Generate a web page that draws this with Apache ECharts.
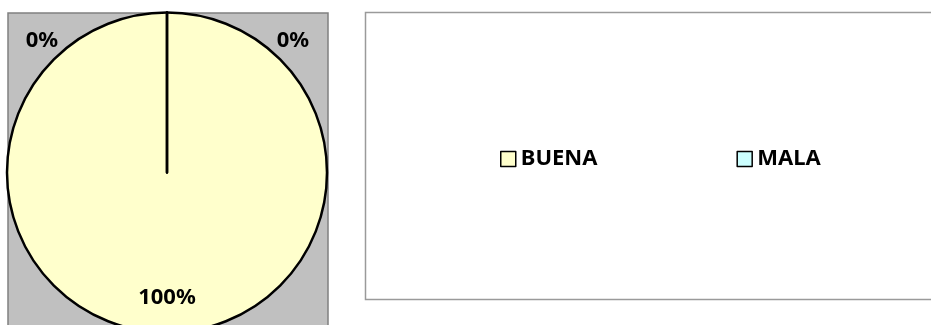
<!DOCTYPE html>
<html>
<head>
<meta charset="utf-8">
<script src="https://cdn.jsdelivr.net/npm/echarts@6/dist/echarts.min.js"></script>
<style>
  html, body { margin: 0; padding: 0; background: #fff; }
  #chart { width: 931px; height: 325px; }
</style>
</head>
<body>
<div id="chart"></div>
<script>
// datos del grafico
var categorias = ['BUENA', 'MALA', ''];
var valores = [100, 0, 0];
var colores = ['#FFFFCC', '#CCFFFF', '#FFFFFF'];
var leyenda = ['BUENA', 'MALA'];

// desplazamiento de las etiquetas (como en la hoja original)
var desplazamientos = [[0, 42], [-125, -49], [126, -49]];

var chart = echarts.init(document.getElementById('chart'));

var datos = categorias.map(function (c, i) {
    return {
        name: c,
        value: valores[i],
        itemStyle: { color: colores[i] },
        label: { offset: desplazamientos[i] }
    };
});

var fuente = {
    fontFamily: 'Noto Sans',
    fontWeight: 'bold',
    fontSize: 22,
    color: '#000'
};

chart.setOption({
    animation: false,
    backgroundColor: '#fff',
    graphic: [
        {   // area de trazado gris
            type: 'rect',
            z: -10,
            shape: { x: 8, y: 13, width: 320, height: 330 },
            style: { fill: '#C0C0C0', stroke: '#808080', lineWidth: 1.5 }
        },
        {   // caja de la leyenda
            type: 'rect',
            z: -10,
            shape: { x: 365.5, y: 12.5, width: 600, height: 287 },
            style: { fill: '#fff', stroke: '#9a9a9a', lineWidth: 1.5 }
        }
    ],
    legend: {
        data: leyenda,
        left: 500,
        top: 148,
        padding: 0,
        icon: 'rect',
        itemWidth: 15,
        itemHeight: 15,
        itemGap: 139,
        itemStyle: { borderColor: '#000', borderWidth: 1.5 },
        textStyle: fuente
    },
    series: [{
        type: 'pie',
        center: [167, 172.5],
        radius: 160,
        startAngle: 90,
        clockwise: true,
        percentPrecision: 0,
        avoidLabelOverlap: false,
        silent: true,
        itemStyle: { borderColor: '#000', borderWidth: 2.5 },
        label: Object.assign({
            show: true,
            position: 'inside',
            formatter: '{d}%'
        }, fuente),
        labelLine: { show: false },
        emphasis: { disabled: true },
        data: datos
    }]
});
</script>
</body>
</html>
